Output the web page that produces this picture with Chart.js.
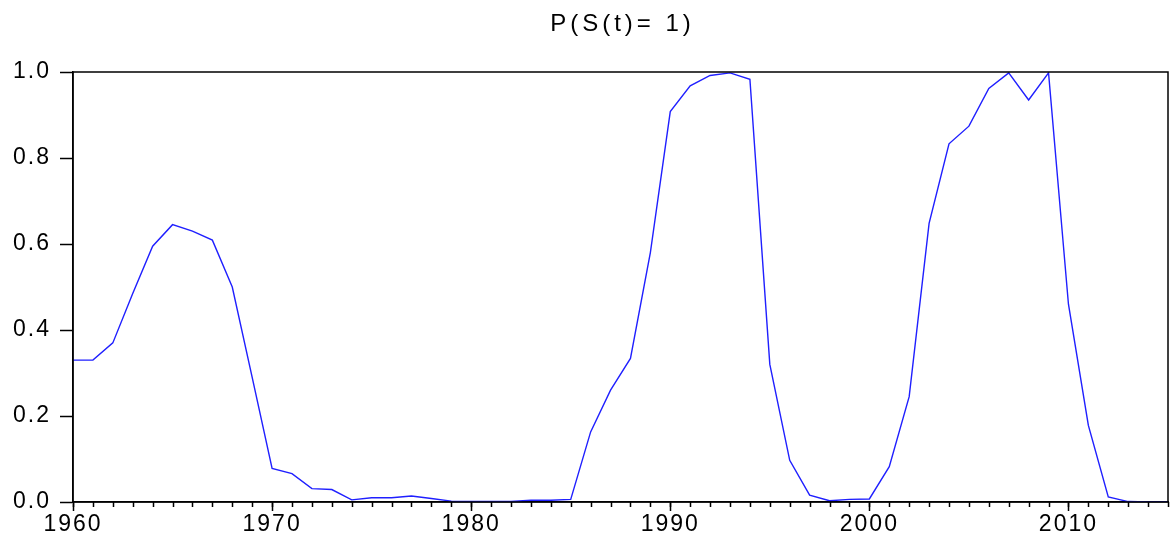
<!DOCTYPE html>
<html>
<head>
<meta charset="utf-8">
<script src="https://cdn.jsdelivr.net/npm/chart.js@4.4.0/dist/chart.umd.min.js"></script>
<style>
  html, body { margin: 0; padding: 0; background: #fff; }
  #wrap { width: 1173px; height: 538px; }
</style>
</head>
<body>
<div id="wrap"><canvas id="chart" width="1173" height="538"></canvas></div>
<script>
const titleText = "P(S(t)= 1)";

const years = [
  1960, 1961, 1962, 1963, 1964, 1965, 1966, 1967, 1968, 1969,
  1970, 1971, 1972, 1973, 1974, 1975, 1976, 1977, 1978, 1979,
  1980, 1981, 1982, 1983, 1984, 1985, 1986, 1987, 1988, 1989,
  1990, 1991, 1992, 1993, 1994, 1995, 1996, 1997, 1998, 1999,
  2000, 2001, 2002, 2003, 2004, 2005, 2006, 2007, 2008, 2009,
  2010, 2011, 2012, 2013, 2014, 2015,
];

const probS1 = [
  0.330, 0.330, 0.370, 0.485, 0.595, 0.645, 0.630, 0.609, 0.500, 0.290,
  0.078, 0.066, 0.031, 0.029, 0.005, 0.010, 0.010, 0.014, 0.008, 0.002,
  0.001, 0.001, 0.001, 0.004, 0.004, 0.006, 0.163, 0.260, 0.334, 0.580,
  0.908, 0.968, 0.992, 0.998, 0.983, 0.320, 0.097, 0.016, 0.003, 0.006,
  0.007, 0.082, 0.245, 0.648, 0.833, 0.874, 0.962, 0.998, 0.935, 0.998,
  0.460, 0.178, 0.012, 0.001, 0.000, 0.000,
];

const yTicks = [0.0, 0.2, 0.4, 0.6, 0.8, 1.0];
const xLabelEvery = 10;

const points = years.map((yr, i) => ({ x: yr, y: probS1[i] }));

const tickFont = { family: "Liberation Sans, Arial", size: 23 };

// wide letter spacing like the original export; canvas state resets on resize
const spacing = {
  id: "spacing",
  beforeUpdate: (chart) => { chart.ctx.letterSpacing = "2px"; },
  beforeDraw: (chart) => { chart.ctx.letterSpacing = "2px"; },
};

// frame box, short yearly ticks, and the title over the plot area
const frame = {
  id: "frame",
  afterDraw: (chart) => {
    const { ctx, chartArea: a, scales } = chart;
    ctx.save();
    ctx.strokeStyle = "#000";
    ctx.lineWidth = 1.5;
    ctx.strokeRect(a.left, a.top, a.right - a.left, a.bottom - a.top);
    ctx.beginPath();
    years.forEach((yr) => {
      const px = Math.round(scales.x.getPixelForValue(yr)) + 0.5;
      ctx.moveTo(px, a.bottom);
      ctx.lineTo(px, a.bottom + 5);
    });
    ctx.stroke();

    ctx.letterSpacing = "4px";
    ctx.fillStyle = "#000";
    ctx.font = "24px 'Liberation Sans', Arial";
    ctx.textAlign = "center";
    ctx.textBaseline = "middle";
    ctx.fillText(titleText, (a.left + a.right) / 2 + 2, 24);
    ctx.restore();
  },
};

new Chart(document.getElementById("chart"), {
  type: "line",
  data: {
    datasets: [
      {
        label: titleText,
        data: points,
        borderColor: "#1f1fff",
        borderWidth: 1.4,
        pointRadius: 0,
        tension: 0,
        fill: false,
      },
    ],
  },
  options: {
    responsive: false,
    animation: false,
    devicePixelRatio: 1,
    layout: { padding: { left: 0, right: 5, top: 72, bottom: 0 } },
    plugins: {
      legend: { display: false },
      tooltip: { enabled: false },
      title: { display: false },
    },
    scales: {
      x: {
        type: "linear",
        min: years[0],
        max: years[years.length - 1],
        afterFit: (scale) => { scale.height = 36; },
        afterBuildTicks: (scale) => {
          scale.ticks = years
            .filter((yr) => yr % xLabelEvery === 0)
            .map((yr) => ({ value: yr }));
        },
        ticks: {
          autoSkip: false,
          maxRotation: 0,
          padding: 0,
          color: "#000",
          font: tickFont,
          callback: (v) => String(v),
        },
        grid: {
          drawOnChartArea: false,
          drawTicks: true,
          tickLength: 9,
          tickColor: "#000",
          tickWidth: 1.5,
        },
        border: { display: true, color: "#000", width: 1.5 },
      },
      y: {
        min: 0,
        max: 1,
        afterFit: (scale) => { scale.width = 73; },
        afterBuildTicks: (scale) => {
          scale.ticks = yTicks.map((v) => ({ value: v }));
        },
        ticks: {
          padding: 9,
          color: "#000",
          font: tickFont,
          callback: (v) => Number(v).toFixed(1),
        },
        grid: {
          drawOnChartArea: false,
          drawTicks: true,
          tickLength: 13,
          tickColor: "#000",
          tickWidth: 1.5,
        },
        border: { display: true, color: "#000", width: 1.5 },
      },
    },
  },
  plugins: [spacing, frame],
});
</script>
</body>
</html>
